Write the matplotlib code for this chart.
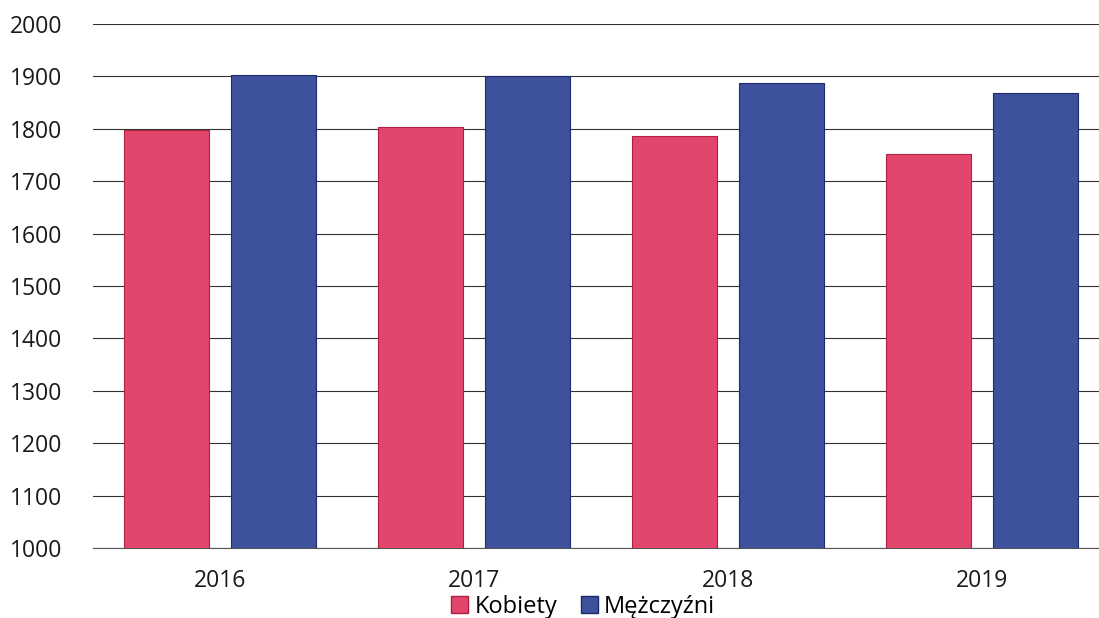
import matplotlib
matplotlib.use("Agg")
import matplotlib.pyplot as plt
import numpy as np
from matplotlib.patches import Patch

years = ["2016", "2017", "2018", "2019"]
kobiety = [1798, 1803, 1786, 1752]
mezczyzni = [1903, 1900, 1888, 1869]
series_names = ["Kobiety", "Mężczyźni"]

plt.rcParams['font.family'] = ['Open Sans', 'DejaVu Sans']

fig = plt.figure(figsize=(10.99, 6.18), dpi=100)
ax = fig.add_axes([93/1099, 1-548/618, 1016/1099, 524/618])

x = np.arange(len(years))
w = 0.335
off = 0.21
pink = "#E2466D"
blue = "#3E519C"
ax.bar(x - off, kobiety, w, color=pink, edgecolor="#B02040", linewidth=0.8, zorder=3)
ax.bar(x + off, mezczyzni, w, color=blue, edgecolor="#1E2A6E", linewidth=0.8, zorder=3)

ax.set_ylim(1000, 2000)
ax.set_xlim(-0.5, 3.5)
ax.set_yticks(np.arange(1000, 2001, 100))
ax.set_xticks(x)
ax.set_xticklabels(years)
ax.yaxis.grid(True, color="#333333", linewidth=0.8)
ax.set_axisbelow(True)
for s in ["top", "right", "left"]:
    ax.spines[s].set_visible(False)
ax.spines["bottom"].set_color("#555555")
ax.tick_params(axis="y", length=0, pad=22, labelsize=16.5, labelcolor="#1a1a1a")
ax.tick_params(axis="x", length=0, pad=15, labelsize=16.5, labelcolor="#1a1a1a")

handles = [Patch(facecolor=pink, edgecolor="#B02040"), Patch(facecolor=blue, edgecolor="#1E2A6E")]
fig.legend(handles, series_names, loc="center", bbox_to_anchor=(583/1099, 1-607/618),
           ncol=2, frameon=False, fontsize=17, handlelength=0.75, handleheight=0.75,
           handletextpad=0.25, columnspacing=1.0, borderpad=0)

fig.savefig("out.png", dpi=100)
